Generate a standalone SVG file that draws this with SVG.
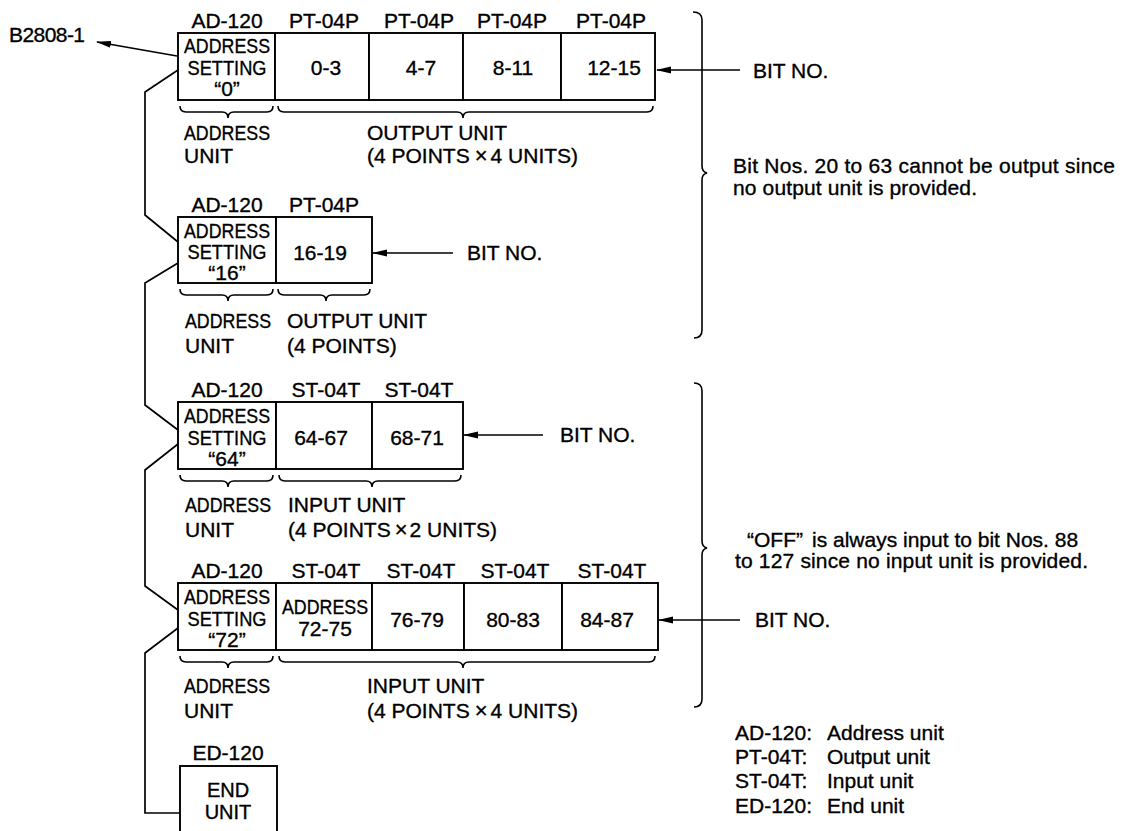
<svg xmlns="http://www.w3.org/2000/svg" width="1130" height="831" viewBox="0 0 1130 831">
<defs>
<marker id="ah" markerWidth="15" markerHeight="9" refX="14" refY="4.5" orient="auto" markerUnits="userSpaceOnUse">
<path d="M0,1 L15,4.5 L0,8 Z" fill="#000"/>
</marker>
<style>
.t{font-family:"Liberation Sans",Arial,Helvetica,sans-serif;font-size:21px;fill:#000;stroke:#000;stroke-width:0.35}
.m{text-anchor:middle}
.x{font-size:22px}
.e{font-size:20px}
.bx{fill:#fff;stroke:#000;stroke-width:1.9}
.ln{fill:none;stroke:#000;stroke-width:1.7}
.br{fill:none;stroke:#000;stroke-width:1.6}
</style>
</defs>
<rect width="1130" height="831" fill="#fff"/>

<!-- connectors -->
<g id="connectors">
<polyline class="ln" points="178,70 145,92 145,215 178,242"/>
<polyline class="ln" points="178,263 145,283 145,405 178,430"/>
<polyline class="ln" points="178,444 145,470 145,586 178,610"/>
<polyline class="ln" points="178,628 145,653 145,813 180,813"/>
<line class="ln" x1="177" y1="56" x2="97" y2="42" marker-end="url(#ah)"/>
<line class="ln" x1="740" y1="70" x2="657" y2="70" marker-end="url(#ah)"/>
<line class="ln" x1="453" y1="253" x2="373" y2="253" marker-end="url(#ah)"/>
<line class="ln" x1="543" y1="435" x2="464" y2="435" marker-end="url(#ah)"/>
<line class="ln" x1="740" y1="620" x2="659" y2="620" marker-end="url(#ah)"/>
</g>

<text class="t" x="9" y="42" textLength="76">B2808-1</text>

<!-- Row 1 -->
<g id="row1">
<g id="r1-ad120">
<rect class="bx" x="178" y="33" width="97" height="67"/>
<text class="t m" x="227" y="28">AD-120</text>
<text class="t m" x="227" y="53" textLength="86" lengthAdjust="spacingAndGlyphs">ADDRESS</text>
<text class="t m" x="227" y="75" textLength="79" lengthAdjust="spacingAndGlyphs">SETTING</text>
<text class="t m" x="227" y="96">“0”</text>
</g>
<g id="r1-pt1"><rect class="bx" x="275" y="33" width="94" height="67"/>
<text class="t m" x="324" y="28">PT-04P</text><text class="t m" x="326" y="75">0-3</text></g>
<g id="r1-pt2"><rect class="bx" x="369" y="33" width="94" height="67"/>
<text class="t m" x="419" y="28">PT-04P</text><text class="t m" x="421" y="75">4-7</text></g>
<g id="r1-pt3"><rect class="bx" x="463" y="33" width="98" height="67"/>
<text class="t m" x="512" y="28">PT-04P</text><text class="t m" x="513" y="75">8-11</text></g>
<g id="r1-pt4"><rect class="bx" x="561" y="33" width="94" height="67"/>
<text class="t m" x="611" y="28">PT-04P</text><text class="t m" x="614" y="75">12-15</text></g>
<path class="br" d="M180,106 Q180,112 186,112 H222 Q228,112 228,118 Q228,112 234,112 H267 Q273,112 273,106"/>
<path class="br" d="M278,106 Q278,112 284,112 H457 Q463,112 463,118 Q463,112 469,112 H647 Q653,112 653,106"/>
<text class="t" x="184" y="140" textLength="86" lengthAdjust="spacingAndGlyphs">ADDRESS</text>
<text class="t" x="184" y="163">UNIT</text>
<text class="t" x="367" y="140" textLength="140">OUTPUT UNIT</text>
<text class="t" x="367" y="163">(4 POINTS<tspan class="x" dx="5">×</tspan><tspan dx="3">4 UNITS)</tspan></text>
<text class="t" x="753" y="78">BIT NO.</text>
</g>

<!-- Row 2 -->
<g id="row2">
<g id="r2-ad120">
<rect class="bx" x="178" y="217" width="98" height="66"/>
<text class="t m" x="227" y="212">AD-120</text>
<text class="t m" x="227" y="238" textLength="86" lengthAdjust="spacingAndGlyphs">ADDRESS</text>
<text class="t m" x="227" y="259" textLength="79" lengthAdjust="spacingAndGlyphs">SETTING</text>
<text class="t m" x="227" y="280">“16”</text>
</g>
<g id="r2-pt1"><rect class="bx" x="276" y="217" width="96" height="66"/>
<text class="t m" x="324" y="212">PT-04P</text><text class="t m" x="320" y="260">16-19</text></g>
<path class="br" d="M180,289 Q180,295 186,295 H222 Q228,295 228,301 Q228,295 234,295 H267 Q273,295 273,289"/>
<path class="br" d="M278,289 Q278,295 284,295 H320 Q326,295 326,301 Q326,295 332,295 H364 Q370,295 370,289"/>
<text class="t" x="185" y="328" textLength="86" lengthAdjust="spacingAndGlyphs">ADDRESS</text>
<text class="t" x="185" y="353">UNIT</text>
<text class="t" x="287" y="328" textLength="140">OUTPUT UNIT</text>
<text class="t" x="287" y="353">(4 POINTS)</text>
<text class="t" x="467" y="260">BIT NO.</text>
</g>

<!-- Row 3 -->
<g id="row3">
<g id="r3-ad120">
<rect class="bx" x="178" y="402" width="98" height="67"/>
<text class="t m" x="227" y="397">AD-120</text>
<text class="t m" x="227" y="423" textLength="86" lengthAdjust="spacingAndGlyphs">ADDRESS</text>
<text class="t m" x="227" y="445" textLength="79" lengthAdjust="spacingAndGlyphs">SETTING</text>
<text class="t m" x="227" y="466">“64”</text>
</g>
<g id="r3-st1"><rect class="bx" x="276" y="402" width="96" height="67"/>
<text class="t m" x="326" y="397">ST-04T</text><text class="t m" x="321" y="445">64-67</text></g>
<g id="r3-st2"><rect class="bx" x="372" y="402" width="91" height="67"/>
<text class="t m" x="419" y="397">ST-04T</text><text class="t m" x="417" y="445">68-71</text></g>
<path class="br" d="M180,475 Q180,481 186,481 H222 Q228,481 228,487 Q228,481 234,481 H267 Q273,481 273,475"/>
<path class="br" d="M279,475 Q279,481 285,481 H366 Q372,481 372,487 Q372,481 378,481 H455 Q461,481 461,475"/>
<text class="t" x="185" y="512" textLength="86" lengthAdjust="spacingAndGlyphs">ADDRESS</text>
<text class="t" x="185" y="537">UNIT</text>
<text class="t" x="288" y="512">INPUT UNIT</text>
<text class="t" x="288" y="537">(4 POINTS<tspan class="x" dx="4">×</tspan><tspan dx="2">2 UNITS)</tspan></text>
<text class="t" x="560" y="442">BIT NO.</text>
</g>

<!-- Row 4 -->
<g id="row4">
<g id="r4-ad120">
<rect class="bx" x="178" y="583" width="98" height="67"/>
<text class="t m" x="227" y="578">AD-120</text>
<text class="t m" x="227" y="604" textLength="86" lengthAdjust="spacingAndGlyphs">ADDRESS</text>
<text class="t m" x="227" y="626" textLength="79" lengthAdjust="spacingAndGlyphs">SETTING</text>
<text class="t m" x="227" y="647">“72”</text>
</g>
<g id="r4-st1"><rect class="bx" x="276" y="583" width="96" height="67"/>
<text class="t m" x="326" y="578">ST-04T</text>
<text class="t m" x="325" y="614" textLength="86" lengthAdjust="spacingAndGlyphs">ADDRESS</text>
<text class="t m" x="325" y="636">72-75</text></g>
<g id="r4-st2"><rect class="bx" x="372" y="583" width="92" height="67"/>
<text class="t m" x="421" y="578">ST-04T</text><text class="t m" x="417" y="627">76-79</text></g>
<g id="r4-st3"><rect class="bx" x="464" y="583" width="98" height="67"/>
<text class="t m" x="515" y="578">ST-04T</text><text class="t m" x="513" y="627">80-83</text></g>
<g id="r4-st4"><rect class="bx" x="562" y="583" width="96" height="67"/>
<text class="t m" x="612" y="578">ST-04T</text><text class="t m" x="607" y="627">84-87</text></g>
<path class="br" d="M180,656 Q180,662 186,662 H222 Q228,662 228,668 Q228,662 234,662 H267 Q273,662 273,656"/>
<path class="br" d="M279,656 Q279,662 285,662 H457 Q463,662 463,668 Q463,662 469,662 H649 Q655,662 655,656"/>
<text class="t" x="184" y="693" textLength="86" lengthAdjust="spacingAndGlyphs">ADDRESS</text>
<text class="t" x="184" y="718">UNIT</text>
<text class="t" x="367" y="693">INPUT UNIT</text>
<text class="t" x="367" y="718">(4 POINTS<tspan class="x" dx="5">×</tspan><tspan dx="3">4 UNITS)</tspan></text>
<text class="t" x="755" y="627">BIT NO.</text>
</g>

<!-- End unit -->
<g id="end-unit">
<rect class="bx" x="180" y="766" width="97" height="80"/>
<text class="t m" x="228" y="760">ED-120</text>
<text class="t e m" x="228" y="797">END</text>
<text class="t e m" x="228" y="819">UNIT</text>
</g>

<!-- Big braces -->
<g id="brace-output">
<path class="br" d="M693,12 Q702,12 702,20 V166 Q702,172 707,173 Q702,174 702,180 V330 Q702,338 694,338"/>
<text class="t" x="733" y="173" textLength="382">Bit Nos. 20 to 63 cannot be output since</text>
<text class="t" x="733" y="195" textLength="244">no output unit is provided.</text>
</g>
<g id="brace-input">
<path class="br" d="M694,383 Q702,383 702,391 V541 Q702,547 707,548 Q702,549 702,555 V699 Q702,707 694,707"/>
<text class="t" x="747" y="547">“OFF”<tspan dx="9">is always input to bit Nos. 88</tspan></text>
<text class="t" x="735" y="568" textLength="353">to 127 since no input unit is provided.</text>
</g>

<!-- Legend -->
<g id="legend">
<text class="t" x="735" y="740">AD-120:<tspan x="827">Address unit</tspan></text>
<text class="t" x="735" y="764">PT-04T:<tspan x="827">Output unit</tspan></text>
<text class="t" x="735" y="788">ST-04T:<tspan x="827">Input unit</tspan></text>
<text class="t" x="735" y="813">ED-120:<tspan x="827">End unit</tspan></text>
</g>
</svg>
